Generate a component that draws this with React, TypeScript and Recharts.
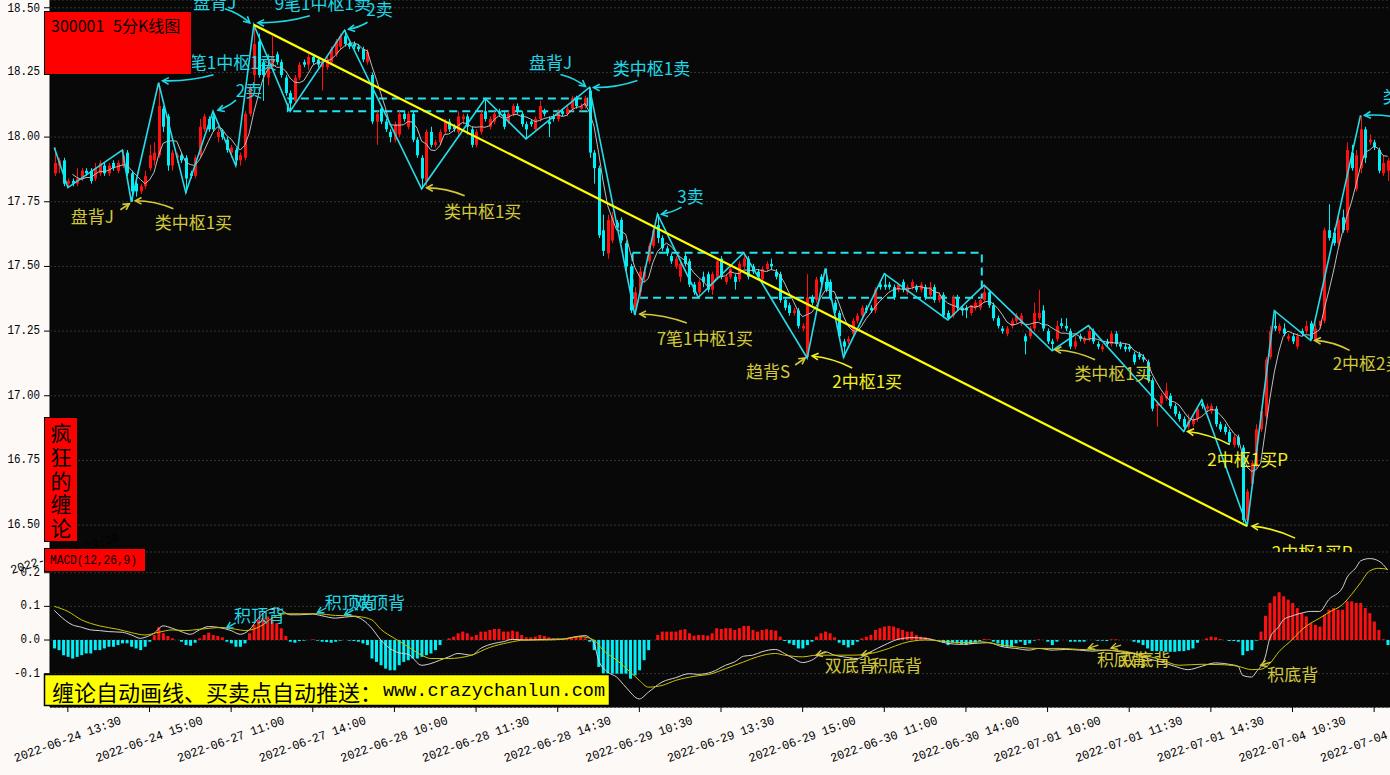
import React from 'react';
import {
  ComposedChart,
  Bar,
  Line,
  XAxis,
  YAxis,
  CartesianGrid,
  ReferenceLine,
  ReferenceArea,
  ReferenceDot,
  Cell,
} from 'recharts';

// 300001, 5-minute bars as [open, high, low, close], one list per trading day
const jun24 = [
  [17.86, 17.96, 17.85, 17.9], [17.89, 17.92, 17.86, 17.91], [17.91, 17.92, 17.81, 17.82], [17.82, 17.84, 17.805, 17.83],
  [17.83, 17.84, 17.81, 17.82], [17.82, 17.88, 17.81, 17.84], [17.84, 17.88, 17.83, 17.87], [17.87, 17.88, 17.85, 17.86],
  [17.87, 17.88, 17.82, 17.83], [17.84, 17.9, 17.83, 17.88], [17.86, 17.91, 17.85, 17.9], [17.89, 17.9, 17.85, 17.86],
  [17.86, 17.9, 17.85, 17.89], [17.9, 17.91, 17.87, 17.88], [17.87, 17.91, 17.86, 17.9], [17.89, 17.95, 17.88, 17.93],
  [17.94, 17.95, 17.85, 17.86], [17.86, 17.87, 17.75, 17.79], [17.82, 17.83, 17.77, 17.79], [17.79, 17.82, 17.78, 17.81],
  [17.81, 17.87, 17.8, 17.85], [17.88, 17.97, 17.87, 17.93],
];
const jun27 = [
  [17.91, 17.98, 17.89, 17.94], [17.93, 18.21, 17.92, 18.12], [18.11, 18.12, 18.02, 18.04], [18.08, 18.09, 17.87, 17.89],
  [17.89, 17.95, 17.87, 17.94], [17.92, 17.94, 17.9, 17.93], [17.93, 17.94, 17.9, 17.91], [17.92, 17.93, 17.785, 17.84],
  [17.86, 17.87, 17.84, 17.85], [17.85, 17.93, 17.84, 17.92], [17.93, 18.07, 17.92, 18.04], [18.03, 18.09, 18.02, 18.08],
  [18.07, 18.08, 18.02, 18.03], [18.08, 18.1, 18.02, 18.03], [18.0, 18.04, 17.98, 18.02], [18.02, 18.03, 17.99, 18.0],
  [17.99, 18.0, 17.94, 17.95], [17.94, 17.97, 17.92, 17.96], [17.95, 17.96, 17.89, 17.91], [17.91, 17.94, 17.89, 17.93],
  [17.92, 18.1, 17.91, 18.09], [18.09, 18.2, 18.08, 18.19], [18.24, 18.434, 18.2, 18.36], [18.37, 18.4, 18.23, 18.24],
  [18.29, 18.3, 18.14, 18.24], [18.23, 18.3, 18.2, 18.27], [18.27, 18.39, 18.26, 18.31], [18.32, 18.33, 18.28, 18.29],
  [18.29, 18.3, 18.23, 18.24], [18.23, 18.24, 18.16, 18.17], [18.17, 18.18, 18.1, 18.13], [18.14, 18.24, 18.13, 18.23],
  [18.23, 18.29, 18.22, 18.28], [18.29, 18.3, 18.27, 18.28], [18.28, 18.32, 18.26, 18.31], [18.31, 18.32, 18.28, 18.29],
  [18.3, 18.31, 18.27, 18.28], [18.27, 18.3, 18.18, 18.29], [18.27, 18.31, 18.26, 18.3], [18.29, 18.35, 18.28, 18.34],
  [18.32, 18.38, 18.31, 18.37], [18.35, 18.4, 18.34, 18.39], [18.39, 18.413, 18.35, 18.36], [18.36, 18.37, 18.34, 18.35],
  [18.36, 18.37, 18.34, 18.35], [18.35, 18.36, 18.33, 18.34], [18.34, 18.35, 18.29, 18.3], [18.29, 18.34, 18.28, 18.33],
];
const jun28 = [
  [18.24, 18.25, 18.05, 18.06], [18.06, 18.1, 17.97, 18.09], [18.11, 18.12, 18.05, 18.06], [18.06, 18.07, 18.02, 18.03],
  [18.02, 18.03, 17.98, 18.0], [17.99, 18.06, 17.98, 18.05], [18.01, 18.1, 18.0, 18.09], [18.09, 18.1, 18.06, 18.07],
  [18.04, 18.1, 18.03, 18.09], [18.09, 18.1, 17.98, 17.99], [17.99, 18.0, 17.92, 17.93], [17.92, 17.93, 17.8, 17.84],
  [17.83, 18.03, 17.81, 18.02], [18.02, 18.04, 17.96, 17.97], [17.97, 17.99, 17.96, 17.98], [17.98, 18.03, 17.97, 18.02],
  [18.02, 18.07, 18.01, 18.06], [18.06, 18.07, 18.02, 18.03], [18.04, 18.05, 18.02, 18.03], [18.02, 18.1, 18.01, 18.08],
  [18.07, 18.09, 18.05, 18.08], [18.08, 18.09, 18.01, 18.04], [18.03, 18.04, 17.96, 17.97], [17.97, 18.03, 17.96, 18.02],
  [18.02, 18.1, 18.01, 18.09], [18.1, 18.149, 18.06, 18.07], [18.04, 18.08, 18.03, 18.07], [18.06, 18.1, 18.05, 18.09],
  [18.1, 18.11, 18.08, 18.09], [18.09, 18.1, 18.03, 18.04], [18.06, 18.1, 18.05, 18.09], [18.09, 18.13, 18.08, 18.12],
  [18.12, 18.13, 18.09, 18.1], [18.09, 18.1, 18.04, 18.05], [18.05, 18.06, 17.993, 18.03], [18.06, 18.07, 18.04, 18.05],
  [18.03, 18.08, 18.02, 18.07], [18.07, 18.14, 18.06, 18.12], [18.1, 18.11, 18.08, 18.09], [18.06, 18.08, 18.0, 18.05],
  [18.08, 18.09, 18.06, 18.07], [18.07, 18.11, 18.06, 18.1], [18.1, 18.11, 18.08, 18.09], [18.09, 18.12, 18.08, 18.11],
  [18.11, 18.16, 18.1, 18.15], [18.15, 18.16, 18.11, 18.12], [18.11, 18.13, 18.1, 18.12], [18.12, 18.16, 18.11, 18.15],
];
const jun29 = [
  [18.18, 18.192, 17.92, 17.94], [17.94, 17.95, 17.82, 17.88], [17.88, 17.89, 17.61, 17.62], [17.64, 17.7, 17.54, 17.56],
  [17.55, 17.7, 17.53, 17.68], [17.6, 17.71, 17.59, 17.69], [17.67, 17.68, 17.64, 17.65], [17.68, 17.69, 17.59, 17.6],
  [17.59, 17.6, 17.48, 17.5], [17.5, 17.51, 17.32, 17.33], [17.34, 17.42, 17.312, 17.4], [17.4, 17.5, 17.38, 17.48],
  [17.46, 17.5, 17.44, 17.48], [17.52, 17.59, 17.51, 17.58], [17.58, 17.65, 17.57, 17.64], [17.66, 17.702, 17.59, 17.61],
  [17.61, 17.62, 17.56, 17.57], [17.57, 17.58, 17.54, 17.55], [17.54, 17.55, 17.51, 17.52], [17.5, 17.54, 17.49, 17.53],
  [17.46, 17.52, 17.44, 17.51], [17.54, 17.55, 17.5, 17.51], [17.52, 17.53, 17.42, 17.43], [17.43, 17.44, 17.39, 17.4],
  [17.4, 17.45, 17.38, 17.44], [17.46, 17.48, 17.42, 17.44], [17.47, 17.48, 17.4, 17.41], [17.41, 17.48, 17.39, 17.47],
  [17.46, 17.53, 17.45, 17.52], [17.53, 17.54, 17.45, 17.46], [17.44, 17.47, 17.43, 17.46], [17.46, 17.5, 17.45, 17.49],
  [17.46, 17.47, 17.41, 17.44], [17.45, 17.52, 17.44, 17.51], [17.5, 17.553, 17.49, 17.53], [17.53, 17.54, 17.45, 17.46],
  [17.5, 17.51, 17.47, 17.48], [17.48, 17.49, 17.45, 17.46], [17.45, 17.5, 17.44, 17.49], [17.49, 17.52, 17.48, 17.51],
  [17.51, 17.53, 17.49, 17.5], [17.48, 17.49, 17.45, 17.46], [17.47, 17.48, 17.36, 17.37], [17.37, 17.38, 17.33, 17.34],
  [17.35, 17.36, 17.31, 17.32], [17.32, 17.34, 17.31, 17.33], [17.33, 17.34, 17.26, 17.27], [17.26, 17.28, 17.25, 17.27],
];
const jun30 = [
  [17.15, 17.47, 17.146, 17.38], [17.38, 17.39, 17.35, 17.36], [17.37, 17.46, 17.36, 17.45], [17.46, 17.47, 17.43, 17.44],
  [17.44, 17.492, 17.4, 17.41], [17.44, 17.45, 17.37, 17.38], [17.36, 17.37, 17.32, 17.33], [17.32, 17.33, 17.22, 17.23],
  [17.21, 17.22, 17.149, 17.19], [17.21, 17.23, 17.2, 17.22], [17.24, 17.3, 17.23, 17.29], [17.29, 17.32, 17.28, 17.31],
  [17.31, 17.35, 17.3, 17.34], [17.34, 17.35, 17.32, 17.33], [17.34, 17.35, 17.32, 17.33], [17.33, 17.42, 17.32, 17.41],
  [17.43, 17.44, 17.41, 17.42], [17.43, 17.472, 17.41, 17.42], [17.43, 17.44, 17.41, 17.42], [17.42, 17.43, 17.37, 17.38],
  [17.41, 17.43, 17.4, 17.43], [17.44, 17.45, 17.4, 17.41], [17.4, 17.43, 17.39, 17.42], [17.42, 17.45, 17.41, 17.44],
  [17.42, 17.43, 17.4, 17.41], [17.41, 17.44, 17.4, 17.43], [17.42, 17.43, 17.37, 17.38], [17.39, 17.44, 17.38, 17.42],
  [17.42, 17.43, 17.36, 17.37], [17.37, 17.4, 17.36, 17.39], [17.39, 17.4, 17.3, 17.31], [17.32, 17.33, 17.293, 17.3],
  [17.31, 17.39, 17.3, 17.38], [17.38, 17.39, 17.33, 17.34], [17.34, 17.35, 17.31, 17.33], [17.34, 17.35, 17.3, 17.33],
  [17.32, 17.35, 17.31, 17.35], [17.34, 17.37, 17.33, 17.36], [17.34, 17.38, 17.33, 17.37], [17.37, 17.428, 17.36, 17.4],
  [17.4, 17.41, 17.34, 17.35], [17.35, 17.36, 17.29, 17.3], [17.3, 17.31, 17.26, 17.27], [17.26, 17.27, 17.24, 17.25],
  [17.24, 17.27, 17.23, 17.26], [17.27, 17.3, 17.26, 17.29], [17.29, 17.32, 17.28, 17.31], [17.28, 17.32, 17.27, 17.31],
];
const jul01 = [
  [17.23, 17.24, 17.16, 17.21], [17.23, 17.27, 17.22, 17.26], [17.26, 17.36, 17.25, 17.32], [17.3, 17.41, 17.29, 17.32],
  [17.33, 17.35, 17.25, 17.26], [17.25, 17.26, 17.2, 17.21], [17.21, 17.22, 17.174, 17.2], [17.22, 17.29, 17.21, 17.27],
  [17.28, 17.3, 17.26, 17.27], [17.27, 17.3, 17.25, 17.26], [17.25, 17.26, 17.18, 17.19], [17.19, 17.23, 17.18, 17.21],
  [17.23, 17.24, 17.21, 17.22], [17.21, 17.23, 17.2, 17.22], [17.22, 17.271, 17.21, 17.25], [17.25, 17.26, 17.2, 17.21],
  [17.2, 17.21, 17.18, 17.19], [17.18, 17.2, 17.17, 17.19], [17.21, 17.22, 17.19, 17.2], [17.2, 17.25, 17.19, 17.24],
  [17.24, 17.25, 17.19, 17.2], [17.2, 17.21, 17.18, 17.19], [17.19, 17.2, 17.17, 17.18], [17.19, 17.2, 17.17, 17.18],
  [17.16, 17.17, 17.12, 17.13], [17.16, 17.17, 17.14, 17.15], [17.15, 17.16, 17.13, 17.14], [17.13, 17.14, 17.05, 17.06],
  [17.06, 17.07, 16.94, 16.95], [16.96, 16.97, 16.88, 16.97], [16.97, 17.01, 16.96, 17.0], [16.99, 17.05, 16.98, 17.02],
  [17.0, 17.01, 16.95, 16.96], [16.96, 16.97, 16.92, 16.93], [16.93, 16.94, 16.9, 16.91], [16.91, 16.92, 16.862, 16.88],
  [16.88, 16.93, 16.87, 16.9], [16.89, 16.92, 16.88, 16.91], [16.91, 16.96, 16.9, 16.95], [16.97, 16.984, 16.95, 16.96],
  [16.95, 16.97, 16.94, 16.96], [16.94, 16.97, 16.93, 16.96], [16.95, 16.96, 16.88, 16.89], [16.89, 16.9, 16.86, 16.87],
  [16.88, 16.89, 16.85, 16.86], [16.86, 16.87, 16.81, 16.82], [16.81, 16.85, 16.8, 16.84], [16.84, 16.85, 16.8, 16.81],
];
const jul04 = [
  [16.8, 16.81, 16.51, 16.52], [16.52, 16.64, 16.496, 16.63], [16.66, 16.75, 16.65, 16.74], [16.73, 16.89, 16.72, 16.87],
  [16.87, 16.95, 16.86, 16.94], [16.92, 17.15, 16.91, 17.14], [17.15, 17.27, 17.14, 17.25], [17.27, 17.329, 17.25, 17.26],
  [17.25, 17.28, 17.24, 17.27], [17.26, 17.28, 17.23, 17.24], [17.22, 17.24, 17.21, 17.23], [17.23, 17.24, 17.2, 17.21],
  [17.19, 17.24, 17.18, 17.23], [17.25, 17.26, 17.23, 17.24], [17.25, 17.29, 17.24, 17.27], [17.28, 17.29, 17.214, 17.22],
  [17.22, 17.28, 17.21, 17.26], [17.27, 17.29, 17.26, 17.29], [17.29, 17.65, 17.28, 17.64], [17.64, 17.74, 17.6, 17.61],
  [17.63, 17.65, 17.58, 17.59], [17.59, 17.7, 17.58, 17.68], [17.69, 17.72, 17.63, 17.64], [17.64, 17.98, 17.63, 17.95],
  [17.94, 17.97, 17.87, 17.88], [17.8, 17.95, 17.79, 17.93], [17.88, 18.084, 17.86, 18.03], [18.03, 18.04, 17.9, 17.92],
  [17.98, 18.01, 17.97, 17.99], [17.98, 17.99, 17.95, 17.96], [17.95, 17.96, 17.86, 17.87], [17.86, 17.93, 17.85, 17.9],
  [17.87, 17.92, 17.83, 17.91],
];

// stroke (bi) turning points: [bar, price]
const biPivots = [
  [0, 17.96], [3, 17.805], [15, 17.95], [17, 17.75], [23, 18.21], [29, 17.785], [35, 18.1], [40, 17.89],
  [44, 18.434], [52, 18.1], [64, 18.413], [81, 17.8], [95, 18.149], [104, 17.993], [118, 18.192], [128, 17.312],
  [133, 17.702], [142, 17.38], [152, 17.553], [166, 17.146], [170, 17.492], [174, 17.149], [183, 17.472], [197, 17.293],
  [205, 17.428], [220, 17.174], [228, 17.271], [249, 16.862], [253, 16.984], [263, 16.496], [269, 17.329], [277, 17.214],
  [288, 18.084],
];

// pivot zones: [fromBar, toBar, low, high]
const pivotZones = [
  [52, 117, 18.1, 18.149],
  [128, 204, 17.379, 17.553],
];

// trend line from the 18.434 top to the 16.496 bottom
const trendLine = [[44, 18.434], [263, 16.496]];

// MACD(12,26,9) histogram, one value per bar
const macdHist = [
  -0.025, -0.03, -0.045, -0.05, -0.055, -0.05, -0.045, -0.04, -0.04, -0.03, -0.03, -0.025, -0.02, -0.02, -0.015, -0.01,
  -0.01, -0.02, -0.025, -0.03, -0.02, -0.005,
  0.015, 0.038, 0.02, 0.012, 0.005, 0.0, -0.005, -0.015, -0.017, -0.008, 0.005, 0.015, 0.022, 0.015, 0.012, 0.008,
  -0.005, -0.01, -0.02, -0.02, -0.01, 0.02, 0.045, 0.06, 0.065, 0.07, 0.06, 0.05, 0.035, 0.012, -0.005, -0.008,
  -0.003, -0.002, 0.0, 0.002, -0.002, -0.005, -0.006, -0.008, -0.005, -0.002, 0.0, -0.002, -0.003, -0.005, -0.01, -0.015,
  -0.055, -0.065, -0.075, -0.085, -0.09, -0.09, -0.075, -0.065, -0.06, -0.055, -0.055, -0.05, -0.045, -0.04, -0.03, -0.015,
  0.0, 0.005, 0.01, 0.02, 0.025, 0.02, 0.01, 0.015, 0.025, 0.025, 0.03, 0.033, 0.033, 0.025, 0.025, 0.028,
  0.025, 0.015, 0.008, 0.008, 0.01, 0.015, 0.012, 0.008, 0.005, 0.005, 0.003, 0.003, 0.008, 0.01, 0.012, 0.005,
  -0.005, -0.03, -0.08, -0.1, -0.1, -0.1, -0.1, -0.1, -0.1, -0.115, -0.105, -0.09, -0.06, -0.03, 0.0, 0.015,
  0.025, 0.025, 0.025, 0.025, 0.03, 0.032, 0.02, 0.013, 0.015, 0.015, 0.013, 0.02, 0.035, 0.033, 0.035, 0.035,
  0.03, 0.035, 0.042, 0.042, 0.03, 0.025, 0.03, 0.032, 0.03, 0.028, 0.01, -0.003, -0.01, -0.015, -0.025, -0.025,
  -0.015, -0.005, 0.01, 0.02, 0.025, 0.02, 0.008, -0.008, -0.015, -0.022, -0.015, -0.005, 0.005, 0.01, 0.015, 0.03,
  0.035, 0.04, 0.042, 0.04, 0.035, 0.03, 0.025, 0.025, 0.015, 0.01, 0.008, 0.005, 0.0, 0.0, -0.008, -0.015,
  -0.008, -0.01, -0.012, -0.015, -0.012, -0.008, -0.003, 0.003, 0.002, -0.005, -0.01, -0.02, -0.02, -0.02, -0.01, -0.005,
  -0.015, -0.01, -0.002, 0.002, 0.0, -0.005, -0.015, -0.005, 0.0, 0.0, -0.005, -0.005, -0.005, -0.005, 0.0, 0.0,
  -0.002, -0.002, -0.003, 0.002, 0.002, 0.0, 0.0, 0.0, -0.005, -0.008, -0.015, -0.025, -0.033, -0.033, -0.033, -0.035,
  -0.035, -0.035, -0.033, -0.033, -0.03, -0.025, -0.008, 0.0, 0.005, 0.01, 0.008, 0.003, 0.0, -0.003, -0.003, -0.005,
  -0.045, -0.033, -0.03, -0.002, 0.025, 0.072, 0.11, 0.13, 0.142, 0.13, 0.12, 0.11, 0.095, 0.08, 0.07, 0.05,
  0.045, 0.04, 0.075, 0.09, 0.095, 0.09, 0.09, 0.115, 0.115, 0.11, 0.11, 0.095, 0.08, 0.055, 0.03, 0.002, -0.015,
];

// DIF and DEA: [bar, value]
const difPoints = [
  [0, 0.088], [1, 0.075], [4, 0.045], [6, 0.038], [8, 0.03], [10, 0.028], [12, 0.025], [15, 0.023], [17, 0.015],
  [19, 0.005], [20, 0.008], [22, 0.02], [24, 0.042], [26, 0.035], [28, 0.025], [30, 0.017], [32, 0.03], [34, 0.04],
  [36, 0.038], [39, 0.028], [41, 0.017], [43, 0.03], [45, 0.065], [47, 0.088], [49, 0.095], [52, 0.075], [54, 0.075],
  [57, 0.077], [59, 0.072], [62, 0.065], [64, 0.068], [66, 0.07], [68, 0.06], [70, 0.035], [72, 0.0], [74, -0.025],
  [76, -0.038], [78, -0.042], [81, -0.075], [83, -0.07], [85, -0.06], [87, -0.05], [89, -0.04], [92, -0.045],
  [94, -0.025], [97, -0.01], [99, -0.005], [101, 0.002], [104, 0.0], [108, 0.002], [112, 0.003], [115, 0.01],
  [117, 0.013], [119, -0.01], [120, -0.06], [122, -0.095], [124, -0.11], [126, -0.14], [129, -0.175], [131, -0.155],
  [134, -0.125], [137, -0.112], [140, -0.1], [142, -0.102], [145, -0.095], [148, -0.075], [150, -0.065], [152, -0.048],
  [154, -0.045], [156, -0.035], [159, -0.028], [161, -0.04], [163, -0.055], [165, -0.067], [167, -0.06], [170, -0.035],
  [172, -0.045], [174, -0.05], [177, -0.055], [180, -0.035], [183, -0.015], [186, 0.002], [189, 0.007], [192, 0.005],
  [194, 0.0], [197, -0.01], [200, -0.013], [203, -0.01], [206, -0.008], [209, -0.02], [212, -0.025], [215, -0.03],
  [217, -0.025], [220, -0.03], [223, -0.028], [226, -0.03], [229, -0.033], [232, -0.03], [235, -0.035], [238, -0.04],
  [241, -0.055], [244, -0.065], [247, -0.078], [250, -0.088], [253, -0.078], [256, -0.068], [259, -0.072], [261, -0.078],
  [262, -0.105], [264, -0.11], [265, -0.095], [267, -0.05], [268, 0.005], [270, 0.04], [271, 0.06], [273, 0.072],
  [275, 0.08], [277, 0.085], [279, 0.085], [281, 0.12], [284, 0.155], [285, 0.185], [287, 0.215], [288, 0.235],
  [290, 0.242], [292, 0.235], [294, 0.208],
];
const deaPoints = [
  [0, 0.1], [3, 0.085], [6, 0.06], [10, 0.042], [14, 0.032], [17, 0.022], [20, 0.015], [23, 0.023], [26, 0.03],
  [29, 0.028], [32, 0.032], [37, 0.037], [40, 0.032], [42, 0.028], [46, 0.045], [48, 0.065], [51, 0.078], [54, 0.078],
  [58, 0.078], [62, 0.073], [65, 0.072], [67, 0.07], [70, 0.06], [72, 0.032], [75, 0.005], [78, -0.02], [81, -0.045],
  [83, -0.055], [87, -0.055], [92, -0.045], [96, -0.022], [100, -0.008], [104, 0.0], [108, 0.0], [112, 0.002],
  [116, 0.01], [119, 0.0], [121, -0.03], [124, -0.06], [127, -0.095], [129, -0.12], [131, -0.14], [134, -0.135],
  [137, -0.12], [141, -0.108], [145, -0.1], [148, -0.085], [152, -0.065], [155, -0.05], [159, -0.04], [161, -0.045],
  [165, -0.05], [168, -0.045], [172, -0.045], [176, -0.045], [180, -0.04], [184, -0.025], [187, -0.01], [192, 0.0],
  [195, -0.002], [200, -0.008], [204, -0.005], [209, -0.015], [213, -0.022], [217, -0.025], [222, -0.025], [226, -0.028],
  [231, -0.03], [235, -0.032], [240, -0.045], [244, -0.058], [248, -0.075], [253, -0.072], [257, -0.073], [261, -0.078],
  [264, -0.088], [266, -0.087], [268, -0.07], [270, -0.035], [273, 0.002], [275, 0.03], [277, 0.05], [279, 0.065],
  [281, 0.082], [284, 0.105], [286, 0.135], [288, 0.17], [290, 0.205], [292, 0.213], [294, 0.21],
];

const tickBars = [3, 21, 39, 57, 75, 93, 111, 129, 147, 165, 183, 201, 219, 237, 255, 273, 291];
const tickLabels = [
  '2022-06-24 13:30', '2022-06-24 15:00', '2022-06-27 11:00', '2022-06-27 14:00', '2022-06-28 10:00',
  '2022-06-28 11:30', '2022-06-28 14:30', '2022-06-29 10:30', '2022-06-29 13:30', '2022-06-29 15:00',
  '2022-06-30 11:00', '2022-06-30 14:00', '2022-07-01 10:00', '2022-07-01 11:30', '2022-07-01 14:30',
  '2022-07-04 10:30', '2022-07-04 13:30',
];
const priceTicks = [16.5, 16.75, 17, 17.25, 17.5, 17.75, 18, 18.25, 18.5];
const macdTicks = [-0.1, 0, 0.1, 0.2];

// buy / sell signals on the price panel, pointing at a bar
const priceSignals = [
  { text: '盘背J', bar: 44, price: 18.434 },
  { text: '9笔1中枢1卖', bar: 44, price: 18.434 },
  { text: '2卖', bar: 64, price: 18.413 },
  { text: '9笔1中枢1卖', bar: 23, price: 18.21 },
  { text: '2卖', bar: 35, price: 18.1 },
  { text: '盘背J', bar: 118, price: 18.192 },
  { text: '类中枢1卖', bar: 118, price: 18.192 },
  { text: '3卖', bar: 133, price: 17.702 },
  { text: '类中枢1卖', bar: 288, price: 18.084 },
  { text: '盘背J', bar: 17, price: 17.75 },
  { text: '类中枢1买', bar: 17, price: 17.75 },
  { text: '类中枢1买', bar: 81, price: 17.8 },
  { text: '7笔1中枢1买', bar: 128, price: 17.312 },
  { text: '趋背S', bar: 166, price: 17.146 },
  { text: '2中枢1买', bar: 166, price: 17.146 },
  { text: '类中枢1买', bar: 220, price: 17.174 },
  { text: '2中枢1买P', bar: 249, price: 16.862 },
  { text: '2中枢1买P', bar: 263, price: 16.496 },
  { text: '2中枢2买', bar: 277, price: 17.214 },
];
// divergence notes on the MACD panel
const macdSignals = [
  { text: '积顶背', bar: 38, value: 0.036 },
  { text: '积顶背', bar: 58, value: 0.081 },
  { text: '双顶背', bar: 64, value: 0.075 },
  { text: '双底背', bar: 168, value: -0.045 },
  { text: '积底背', bar: 178, value: -0.045 },
  { text: '积底背', bar: 228, value: -0.024 },
  { text: '双底背', bar: 233, value: -0.024 },
  { text: '积底背', bar: 266, value: -0.075 },
];

const UP = '#ff1010';
const DOWN = '#00f0f8';
const SELL = '#1ed8e6';
const BUY = '#d2c83a';
const BUY2 = '#f4f020';
const FONT_CN = '"Noto Sans CJK SC", "Noto Sans", sans-serif';
const FONT_MONO = '"Liberation Mono", "DejaVu Sans Mono", monospace';

// label offsets from the arrow tip (px): text centre, arrow start, arrow end
const priceSignalLayout = [
  { color: SELL, tx: -39, ty: -23, sx: -29, sy: -16, ex: -4, ey: -2, bend: -3 },
  { color: SELL, tx: 69, ty: -22, sx: 56, sy: -9, ex: 4, ey: -2, bend: -4 },
  { color: SELL, tx: 35, ty: -22, sx: 23, sy: -8, ex: 4, ey: -1, bend: -2 },
  { color: SELL, tx: 70, ty: -21, sx: 55, sy: -8, ex: 4, ey: -2, bend: -4 },
  { color: SELL, tx: 36, ty: -22, sx: 23, sy: -11, ex: 5, ey: -1, bend: -2 },
  { color: SELL, tx: -39, ty: -26, sx: -29, sy: -13, ex: -4, ey: -1, bend: -3 },
  { color: SELL, tx: 62, ty: -20, sx: 48, sy: -7, ex: 4, ey: 0, bend: -4 },
  { color: SELL, tx: 33, ty: -19, sx: 24, sy: -7, ex: 4, ey: 0, bend: -2 },
  { color: SELL, tx: 61, ty: -20, sx: 40, sy: 3, ex: 4, ey: 0, bend: 3 },
  { color: BUY, tx: -39, ty: 14, sx: -11, sy: 8, ex: -2, ey: 2, bend: 0 },
  { color: BUY, tx: 62, ty: 20, sx: 42, sy: 7, ex: 4, ey: -1, bend: 4 },
  { color: BUY, tx: 61, ty: 22, sx: 43, sy: 7, ex: 5, ey: -1, bend: 4 },
  { color: BUY, tx: 70, ty: 22, sx: 52, sy: 8, ex: 5, ey: -1, bend: 4 },
  { color: BUY, tx: -39, ty: 13, sx: -12, sy: 7, ex: -2, ey: 0, bend: 0 },
  { color: BUY2, tx: 60, ty: 23, sx: 45, sy: 10, ex: 5, ey: -2, bend: 4 },
  { color: BUY, tx: 61, ty: 22, sx: 43, sy: 9, ex: 3, ey: -1, bend: 4 },
  { color: BUY2, tx: 64, ty: 27, sx: 46, sy: 13, ex: 4, ey: 0, bend: 4 },
  { color: BUY2, tx: 65, ty: 25, sx: 48, sy: 12, ex: 5, ey: 0, bend: 4 },
  { color: BUY, tx: 57, ty: 22, sx: 39, sy: 10, ex: 4, ey: 0, bend: 4 },
];
const macdSignalLayout = [
  { color: SELL, tx: 33, ty: -13, sx: 9, sy: -5 },
  { color: SELL, tx: 33, ty: -11, sx: 9, sy: -5 },
  { color: SELL, tx: 35, ty: -13, sx: 9, sy: -5 },
  { color: BUY, tx: 34, ty: 9, sx: 10, sy: -3 },
  { color: BUY, tx: 35, ty: 9, sx: 10, sy: -3 },
  { color: BUY, tx: 34, ty: 10, sx: 10, sy: -3 },
  { color: BUY, tx: 34, ty: 10, sx: 10, sy: -3 },
  { color: BUY, tx: 32, ty: 8, sx: 10, sy: -3 },
];

const candles = [...jun24, ...jun27, ...jun28, ...jun29, ...jun30, ...jul01, ...jul04];
const biAt = new Map(biPivots.map(([b, p]) => [b, p]));
const difAt = new Map(difPoints.map(([b, v]) => [b, v]));
const deaAt = new Map(deaPoints.map(([b, v]) => [b, v]));

const rows = candles.map(([o, h, l, c], i) => {
  const last5 = candles.slice(i - 4, i + 1);
  return {
    i,
    o, h, l, c,
    range: [l, h],
    ma5: i >= 4 ? last5.reduce((s, k) => s + k[3], 0) / 5 : null,
    bi: biAt.has(i) ? biAt.get(i) : null,
    hist: macdHist[i],
    dif: difAt.has(i) ? difAt.get(i) : null,
    dea: deaAt.has(i) ? deaAt.get(i) : null,
  };
});

const Candle = (props: any) => {
  const { x, y, width, height, payload } = props;
  const { o, h, l, c } = payload;
  const color = c >= o ? UP : DOWN;
  const k = h > l ? height / (h - l) : 0;
  const yAt = (v: number) => y + (h - v) * k;
  const cx = Math.round(x + width / 2);
  const top = yAt(Math.max(o, c));
  const bottom = yAt(Math.min(o, c));
  return (
    <g>
      <line x1={cx + 0.5} x2={cx + 0.5} y1={y} y2={y + height} stroke={color} strokeWidth={1} />
      <rect x={cx - 1} y={top} width={3} height={Math.max(1, bottom - top)} fill={color} />
    </g>
  );
};

const arrowHead = (x2: number, y2: number, fromX: number, fromY: number) => {
  const a = Math.atan2(y2 - fromY, x2 - fromX);
  const len = 7;
  const p1 = [x2 - len * Math.cos(a - 0.5), y2 - len * Math.sin(a - 0.5)];
  const p2 = [x2 - len * Math.cos(a + 0.5), y2 - len * Math.sin(a + 0.5)];
  return `M${p1[0]},${p1[1]} L${x2},${y2} L${p2[0]},${p2[1]}`;
};

const PriceNote = ({ cx, cy, text, lay }: any) => {
  const x1 = cx + lay.sx;
  const y1 = cy + lay.sy;
  const x2 = cx + lay.ex;
  const y2 = cy + lay.ey;
  const dx = x2 - x1;
  const dy = y2 - y1;
  const len = Math.hypot(dx, dy) || 1;
  const qx = (x1 + x2) / 2 - (dy / len) * lay.bend;
  const qy = (y1 + y2) / 2 + (dx / len) * lay.bend;
  return (
    <g>
      <path d={`M${x1},${y1} Q${qx},${qy} ${x2},${y2}`} fill="none" stroke={lay.color} strokeWidth={1.6} />
      <path d={arrowHead(x2, y2, qx, qy)} fill="none" stroke={lay.color} strokeWidth={1.6} />
      <text
        x={cx + lay.tx}
        y={cy + lay.ty}
        textAnchor="middle"
        dominantBaseline="central"
        fill={lay.color}
        fontSize={17}
        fontFamily={FONT_CN}
      >
        {text}
      </text>
    </g>
  );
};

const MacdNote = ({ cx, cy, text, lay }: any) => (
  <g>
    <line x1={cx + lay.sx} y1={cy + lay.sy} x2={cx} y2={cy} stroke={lay.color} strokeWidth={1.4} />
    <path d={arrowHead(cx, cy, cx + lay.sx, cy + lay.sy)} fill="none" stroke={lay.color} strokeWidth={1.4} />
    <text
      x={cx + lay.tx}
      y={cy + lay.ty}
      textAnchor="middle"
      dominantBaseline="central"
      fill={lay.color}
      fontSize={17}
      fontFamily={FONT_CN}
    >
      {text}
    </text>
  </g>
);

const DateTick = (props: any) => {
  const { x, y, payload } = props;
  const label = tickLabels[tickBars.indexOf(payload.value)];
  const cy = y + 26;
  return (
    <text
      x={x}
      y={cy}
      transform={`rotate(-20 ${x} ${cy})`}
      textAnchor="middle"
      dominantBaseline="central"
      fontSize={12.5}
      textLength={113}
      lengthAdjust="spacingAndGlyphs"
      fontFamily={FONT_MONO}
      fill="#000"
    >
      {label}
    </text>
  );
};

// value labels look like a narrow bitmap font: 6.5px per character
const ValueTick = (props: any) => {
  const { x, y, payload, digits } = props;
  const label = Number(payload.value).toFixed(digits);
  return (
    <text
      x={x}
      y={y}
      textAnchor="end"
      dominantBaseline="central"
      fontSize={12.5}
      textLength={label.length * 6.5}
      lengthAdjust="spacingAndGlyphs"
      fontFamily={FONT_MONO}
      fill="#000"
    >
      {label}
    </text>
  );
};

export default function App() {
  return (
    <div style={{ position: 'absolute', left: 0, top: 0, width: 1390, height: 775, background: '#fcf9f7', overflow: 'hidden' }}>
      {/* price panel */}
      <div style={{ position: 'absolute', left: 0, top: 0 }}>
        <ComposedChart width={1390} height={552} data={rows} margin={{ top: 0, right: 0, bottom: 0, left: 0 }}>
          <CartesianGrid vertical={false} stroke="#353535" strokeDasharray="2 2" fill="#080808" fillOpacity={1} />
          <XAxis dataKey="i" hide padding={{ left: 2, right: 0 }} />
          <YAxis
            width={50}
            domain={[16.396, 18.53]}
            allowDataOverflow
            ticks={priceTicks}
            tick={<ValueTick digits={2} />}
            tickSize={6}
            tickMargin={4}
            axisLine={{ stroke: '#000' }}
            tickLine={{ stroke: '#000' }}
          />
          {pivotZones.map(([b1, b2, lo, hi], k) => (
            <ReferenceArea
              key={`z${k}`}
              x1={b1}
              x2={b2}
              y1={lo}
              y2={hi}
              fill="none"
              fillOpacity={0}
              stroke="#22e4f0"
              strokeWidth={2}
              strokeDasharray="8 5"
              ifOverflow="visible"
            />
          ))}
          <Bar dataKey="range" shape={Candle} barSize={3} isAnimationActive={false} />
          <Line dataKey="ma5" stroke="#bdbdbd" strokeWidth={1} dot={false} type="linear" isAnimationActive={false} />
          <Line
            dataKey="bi"
            stroke="#26dce8"
            strokeWidth={1.6}
            dot={false}
            connectNulls
            type="linear"
            isAnimationActive={false}
          />
          <ReferenceLine
            segment={trendLine.map(([b, p]) => ({ x: b, y: p }))}
            stroke="#ffff00"
            strokeWidth={2.2}
            ifOverflow="visible"
          />
          {priceSignals.map((s, k) => (
            <ReferenceDot
              key={`s${k}`}
              x={s.bar}
              y={s.price}
              r={0}
              ifOverflow="visible"
              shape={(p: any) => <PriceNote cx={p.cx} cy={p.cy} text={s.text} lay={priceSignalLayout[k]} />}
            />
          ))}
        </ComposedChart>
      </div>

      {/* tick label of the price panel that is mostly hidden under the MACD panel */}
      <svg width={1390} height={775} style={{ position: 'absolute', left: 0, top: 0 }}>
        <text
          x={12}
          y={574}
          transform="rotate(-17 12 574)"
          fontSize={12.5}
          textLength={113}
          lengthAdjust="spacingAndGlyphs"
          fontFamily={FONT_MONO}
          fill="#000"
        >
          {tickLabels[0]}
        </text>
      </svg>

      {/* MACD panel */}
      <div style={{ position: 'absolute', left: 0, top: 552 }}>
        <ComposedChart width={1390} height={223} data={rows} margin={{ top: 0, right: 0, bottom: 0, left: 0 }}>
          <CartesianGrid vertical={false} stroke="#353535" strokeDasharray="2 2" fill="#080808" fillOpacity={1} />
          <XAxis
            dataKey="i"
            padding={{ left: 2, right: 0 }}
            ticks={tickBars}
            interval={0}
            height={68}
            tick={<DateTick />}
            tickSize={5}
            tickMargin={2}
            axisLine={{ stroke: '#000' }}
            tickLine={{ stroke: '#000' }}
          />
          <YAxis
            width={50}
            domain={[-0.199, 0.2615]}
            allowDataOverflow
            ticks={macdTicks}
            tick={<ValueTick digits={1} />}
            tickSize={6}
            tickMargin={4}
            axisLine={{ stroke: '#000' }}
            tickLine={{ stroke: '#000' }}
          />
          <Bar dataKey="hist" barSize={3} isAnimationActive={false}>
            {rows.map((r) => (
              <Cell key={r.i} fill={r.hist >= 0 ? UP : DOWN} />
            ))}
          </Bar>
          <Line dataKey="dif" stroke="#d4d4d4" strokeWidth={1} dot={false} connectNulls type="monotone" isAnimationActive={false} />
          <Line dataKey="dea" stroke="#cdc400" strokeWidth={1} dot={false} connectNulls type="monotone" isAnimationActive={false} />
          {macdSignals.map((s, k) => (
            <ReferenceDot
              key={`m${k}`}
              x={s.bar}
              y={s.value}
              r={0}
              ifOverflow="visible"
              shape={(p: any) => <MacdNote cx={p.cx} cy={p.cy} text={s.text} lay={macdSignalLayout[k]} />}
            />
          ))}
        </ComposedChart>
      </div>

      {/* title boxes */}
      <svg width={1390} height={775} style={{ position: 'absolute', left: 0, top: 0, pointerEvents: 'none' }}>
        <rect x={44.5} y={11.5} width={147} height={63} fill="#ff0000" stroke="#000" strokeWidth={1} />
        <text x={51} y={25} dominantBaseline="central" fontSize={16} fontFamily={FONT_CN} fill="#000">
          <tspan x={51}>300001</tspan>
          <tspan x={113}>5分K线图</tspan>
        </text>

        <rect x={44.5} y={417.5} width={33} height={124} fill="#ff0000" stroke="#000" strokeWidth={1} />
        {['疯', '狂', '的', '缠', '论'].map((ch, k) => (
          <text
            key={ch}
            x={61}
            y={[432, 456, 480, 503, 527][k]}
            textAnchor="middle"
            dominantBaseline="central"
            fontSize={21}
            fontFamily={FONT_CN}
            fill="#000"
          >
            {ch}
          </text>
        ))}

        <rect x={44.5} y={548.5} width={101} height={23} fill="#ff0000" stroke="#000" strokeWidth={1} />
        <text
          x={50}
          y={560}
          dominantBaseline="central"
          fontSize={13}
          textLength={87}
          lengthAdjust="spacingAndGlyphs"
          fontFamily={FONT_MONO}
          fill="#000"
        >
          MACD(12,26,9)
        </text>

        <rect x={44.5} y={674.5} width={565} height={31} fill="#ffff00" stroke="#000" strokeWidth={1.5} />
        <text y={691} dominantBaseline="central" fill="#000">
          <tspan x={52} fontSize={22} fontFamily={FONT_CN}>缠论自动画线、买卖点自动推送：</tspan>
          <tspan x={383} fontSize={18.5} fontFamily={FONT_MONO}>www.crazychanlun.com</tspan>
        </text>
      </svg>
    </div>
  );
}
